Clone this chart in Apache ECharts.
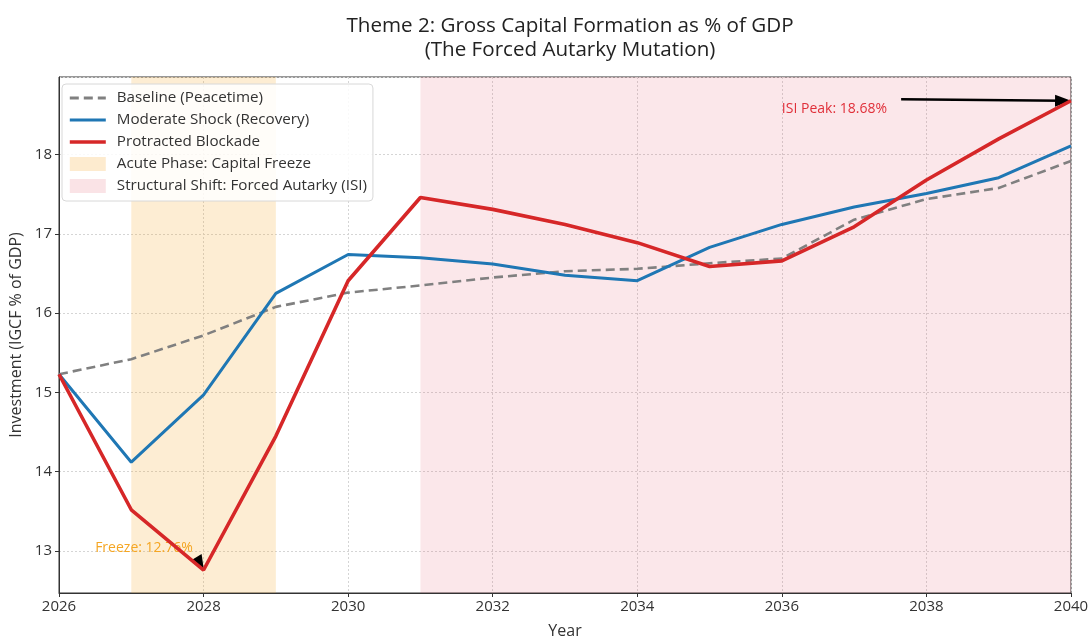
<!DOCTYPE html>
<html><head><meta charset="utf-8">
<script src="https://cdn.jsdelivr.net/npm/echarts@6/dist/echarts.min.js"></script>
<style>html,body{margin:0;padding:0;background:#fff}#c{width:1091px;height:637px}</style>
</head><body><div id="c"></div>
<script>
const years = [2026,2027,2028,2029,2030,2031,2032,2033,2034,2035,2036,2037,2038,2039,2040];
const baseline = [15.23,15.42,15.72,16.08,16.26,16.35,16.45,16.53,16.56,16.63,16.69,17.18,17.44,17.58,17.92];
const moderate = [15.23,14.12,14.97,16.25,16.74,16.70,16.62,16.48,16.41,16.83,17.12,17.34,17.51,17.71,18.11];
const protracted = [15.23,13.52,12.76,14.45,16.41,17.46,17.31,17.12,16.89,16.59,16.66,17.09,17.68,18.20,18.68];
const acutePhase = [2027, 2029];
const structuralShift = [2031, 2040];
// arrow ends sit half a head-length short of the point, so the head's tip lands on it
const freezeNote = {text:'Freeze: 12.76%', at:[2026.5, 13.04], arrowFrom:[2027.91, 12.90], arrowTo:[2027.95, 12.84]};
const peakNote = {text:'ISI Peak: 18.68%', at:[2036.0, 18.57], arrowFrom:[2037.65, 18.70], arrowTo:[2039.89, 18.68]};

const FONT = '"Open Sans"';
const pair = (xs, ys) => xs.map((x,i)=>[x, ys[i]]);
const chart = echarts.init(document.getElementById('c'));
chart.setOption({
  animation:false,
  textStyle:{fontFamily:FONT},
  title:{text:'Theme 2: Gross Capital Formation as % of GDP\n(The Forced Autarky Mutation)', left:565, textAlign:'center', top:9,
    textStyle:{fontFamily:FONT, fontSize:20.6, fontWeight:'normal', color:'#222', lineHeight:24}},
  grid:{left:59, right:20, top:77, bottom:44, containLabel:false, outerBoundsMode:'none',
    show:true, borderColor:'#333', borderWidth:1, backgroundColor:'transparent'},
  legend:{orient:'vertical', left:62, top:84, itemGap:4, itemWidth:36, itemHeight:14,
    backgroundColor:'rgba(255,255,255,0.85)', borderColor:'#d8d8d8', borderWidth:1, borderRadius:4, padding:[5,6,6,6],
    textStyle:{fontFamily:FONT, fontSize:15.2, color:'#333', padding:[0,0,0,6], lineHeight:18},
    data:[{name:'Baseline (Peacetime)', itemStyle:{opacity:0}, lineStyle:{width:3}},
      {name:'Moderate Shock (Recovery)', itemStyle:{opacity:0}, lineStyle:{width:3.2}},
      {name:'Protracted Blockade', itemStyle:{opacity:0}, lineStyle:{width:3.6}},
      {name:'Acute Phase: Capital Freeze', icon:'rect'},{name:'Structural Shift: Forced Autarky (ISI)', icon:'rect'}]},
  xAxis:{type:'value', min:2026, max:2040, interval:2, name:'Year', nameLocation:'middle', nameGap:30,
    nameTextStyle:{fontSize:16, color:'#333'},
    axisLine:{show:true, lineStyle:{color:'#333'}}, axisTick:{show:true, length:4, lineStyle:{color:'#333'}},
    axisLabel:{fontSize:15, color:'#333', formatter:v=>String(v), margin:6},
    splitLine:{show:true, lineStyle:{color:'#d5d5d5', type:[2,2]}}},
  yAxis:{type:'value', min:12.47, max:18.98, splitNumber:6, name:'Investment (IGCF % of GDP)', nameLocation:'middle', nameGap:33,
    nameTextStyle:{fontSize:16, color:'#333'},
    axisLine:{show:true, lineStyle:{color:'#333'}}, axisTick:{show:true, length:4, lineStyle:{color:'#333'}},
    axisLabel:{fontSize:15, color:'#333', showMinLabel:false, showMaxLabel:false, margin:7,
      formatter:v=>Number.isInteger(v)?String(v):''},
    splitLine:{show:true, lineStyle:{color:'#d5d5d5', type:[2,2]}}},
  series:[
    {name:'Acute Phase: Capital Freeze', type:'line', data:[], itemStyle:{color:'rgba(245,166,35,0.22)'},
      markArea:{silent:true, itemStyle:{color:'rgba(245,166,35,0.2)'}, data:[[{xAxis:acutePhase[0]},{xAxis:acutePhase[1]}]]}},
    {name:'Structural Shift: Forced Autarky (ISI)', type:'line', data:[], itemStyle:{color:'rgba(220,60,80,0.14)'},
      markArea:{silent:true, itemStyle:{color:'rgba(220,60,80,0.12)'}, data:[[{xAxis:structuralShift[0]},{xAxis:structuralShift[1]}]]}},
    {name:'Baseline (Peacetime)', type:'line', data:pair(years, baseline), symbol:'none', z:3,
      itemStyle:{color:'#808080'}, lineStyle:{color:'#808080', width:2.6, type:[9,5]}},
    {name:'Moderate Shock (Recovery)', type:'line', data:pair(years, moderate), symbol:'none', z:4,
      itemStyle:{color:'#1f77b4'}, lineStyle:{color:'#1f77b4', width:3}},
    {name:'Protracted Blockade', type:'line', data:pair(years, protracted), symbol:'none', z:5,
      itemStyle:{color:'#d62728'}, lineStyle:{color:'#d62728', width:3.6},
      markLine:{silent:true, symbol:['none','triangle'], label:{show:false},
        itemStyle:{color:'#000'},
        data:[[{coord:freezeNote.arrowFrom, symbolSize:[13,15]},{coord:freezeNote.arrowTo, symbolSize:[13,15]}],
              [{coord:peakNote.arrowFrom, symbolSize:[12,16]},{coord:peakNote.arrowTo, symbolSize:[12,16]}]],
        lineStyle:{color:'#000', width:2.6, type:'solid'}},
      markPoint:{silent:true, symbol:'circle', symbolSize:0,
        data:[{coord:freezeNote.at, label:{show:true, position:'right', distance:0, formatter:freezeNote.text, color:'#f5a623', fontSize:14}},
              {coord:peakNote.at, label:{show:true, position:'right', distance:0, formatter:peakNote.text, color:'#e0303a', fontSize:14}}]}}
  ]
});
</script></body></html>
